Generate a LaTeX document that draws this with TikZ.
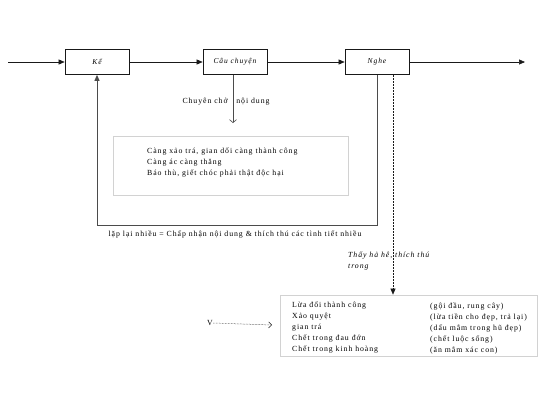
\documentclass[tikz,border=0pt]{standalone}
\usepackage{fontspec}
\setmainfont{Liberation Serif}[LetterSpace=12]
\usetikzlibrary{arrows.meta, positioning, calc}
\definecolor{myline}{RGB}{25,25,25}
\definecolor{mygray}{RGB}{75,75,75}
\definecolor{myframe}{RGB}{210,210,210}
\tikzset{
  block/.style={rectangle, draw=myline, fill=white,
    minimum width=64pt, minimum height=25pt, inner sep=0pt,
    font=\fontsize{7.5}{9}\selectfont\itshape, line width=0.7pt},
  txtbox/.style={rectangle, draw=myframe, line width=0.7pt, inner sep=0pt},
  txt/.style={font=\fontsize{7.8}{11}\selectfont, align=left, inner sep=0pt},
  arrow/.style={-{Triangle[length=6pt, width=5pt]}, line width=0.6pt, color=myline},
  fbarrow/.style={-{Triangle[length=6pt, width=5pt]}, line width=1pt, color=mygray},
  openarrow/.style={-{Straight Barb[length=3pt, width=7pt]}, line width=0.6pt, color=mygray},
  dotarrow/.style={densely dotted, line width=0.5pt, color=myline}
}

\begin{document}
\begin{tikzpicture}[x=1pt, y=-1pt]
  \useasboundingbox (0,0) rectangle (551,413);
  % main chain
  \coordinate (input) at (8, 62);
  \node[block] (ke) at (97, 62) {Kể};
  \node[block] (story) at (235, 62) {Câu chuyện};
  \node[block] (nghe) at (377, 62) {Nghe};
  \coordinate (output) at (525, 62);

  \draw[arrow] (input) -- (ke);
  \draw[arrow] (ke) -- (story);
  \draw[arrow] (story) -- (nghe);
  \draw[arrow] (nghe) -- (output);

  % content carried by the story
  \coordinate (carry) at (0, 123);
  \node[txt] (carrylbl) at (226, 102) {Chuyên chở \ \ nội dung};
  \draw[openarrow] ([xshift=-2pt]story.south) -- ([xshift=-2pt]story.south |- carry);
  \node[txtbox, minimum width=235pt, minimum height=59pt] (lesson) at (230.5, 165.5) {};
  \node[txt, anchor=west] (lessontxt) at (147, 163)
    {Càng xảo trá, gian dối càng thành công\\
     Càng ác càng thăng\\
     Báo thù, giết chóc phải thật độc hại};

  % feedback loop
  \coordinate (fbline) at (0, 225);
  \draw[fbarrow] (nghe.south) |- (fbline -| ke.south) -- (ke.south);
  \node[txt] (fblbl) at (235, 235)
    {lặp lại nhiều = Chấp nhận nội dung \& thích thú các tình tiết nhiều};

  % what the listener enjoys
  \node[txtbox, minimum width=257pt, minimum height=61pt] (list) at (408.5, 325.5) {};
  \draw[dotarrow, -{Triangle[length=6pt, width=5pt]}] ([xshift=16pt]nghe.south) -- ([xshift=16pt]nghe.south |- list.north);
  \node[txt, anchor=north west, font=\fontsize{7.8}{11}\selectfont\itshape] (enjoy) at (348, 252)
    {Thấy hả hê, thích thú\\trong};
  \node[txt, anchor=west] (listleft) at (292, 328)
    {Lừa đối thành công\\
     Xảo quyệt\\
     gian trá\\
     Chết trong đau đớn\\
     Chết trong kinh hoàng};
  \node[txt, anchor=west] (listright) at (430, 328)
    {(gội đầu, rung cây)\\
     (lừa tiền cho đẹp, trả lại)\\
     (dấu mắm trong hũ đẹp)\\
     (chết luộc sống)\\
     (ăn mắm xác con)};

  \node[txt] (vmark) at (210, 323) {V};
  \draw[dotarrow, -{Straight Barb[length=3pt, width=6pt]}] (vmark.east) -- (272, 325);
\end{tikzpicture}
\end{document}
